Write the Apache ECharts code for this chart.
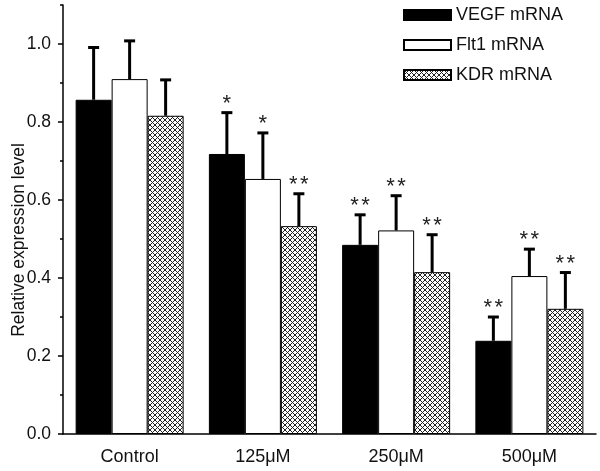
<!DOCTYPE html>
<html><head><meta charset="utf-8">
<script src="https://cdn.jsdelivr.net/npm/echarts@6/dist/echarts.min.js"></script>
<style>html,body{margin:0;padding:0;background:#fff}#c{width:600px;height:471px}</style>
</head><body><div id="c"></div>
<script>
const categories = ['Control', '125\u03bcM', '250\u03bcM', '500\u03bcM'];
const seriesNames = ['VEGF mRNA', 'Flt1 mRNA', 'KDR mRNA'];
const vegf = [0.857, 0.718, 0.485, 0.239];
const vegfSd = [0.134, 0.106, 0.077, 0.061];
const flt1 = [0.910, 0.654, 0.522, 0.405];
const flt1Sd = [0.098, 0.118, 0.089, 0.069];
const kdr = [0.816, 0.533, 0.415, 0.321];
const kdrSd = [0.092, 0.083, 0.096, 0.093];
const vegfStars = ['', '*', '* *', '* *'];
const flt1Stars = ['', '*', '* *', '* *'];
const kdrStars = ['', '* *', '* *', '* *'];
const yMajorTicks = [0, 0.2, 0.4, 0.6, 0.8, 1.0];
const yMinorTicks = [0.1, 0.3, 0.5, 0.7, 0.9, 1.1];

// crosshatch pattern
const P = 5;
const cv = document.createElement('canvas');
cv.width = P; cv.height = P;
const ctx = cv.getContext('2d');
ctx.fillStyle = '#fff'; ctx.fillRect(0, 0, P, P);
ctx.strokeStyle = '#222'; ctx.lineWidth = 1;
ctx.beginPath();
ctx.moveTo(-1, -1); ctx.lineTo(P + 1, P + 1);
ctx.moveTo(P + 1, -1); ctx.lineTo(-1, P + 1);
ctx.stroke();
const hatch = { image: cv, repeat: 'repeat' };

const fills = ['#000', '#fff', hatch];
const means = [vegf, flt1, kdr];
const sds = [vegfSd, flt1Sd, kdrSd];
const stars = [vegfStars, flt1Stars, kdrStars];
const BW = 36;
const FONT = '"Liberation Sans", Arial, sans-serif';

const chart = echarts.init(document.getElementById('c'));
const series = [];
seriesNames.forEach((n, k) => {
  series.push({
    name: n, type: 'bar', data: means[k], barWidth: BW, barGap: '0%',
    itemStyle: { color: fills[k], borderColor: '#000', borderWidth: 1 },
    z: 2
  });
});
seriesNames.forEach((n, k) => {
  series.push({
    type: 'custom', z: 5, silent: true,
    data: means[k].map((v, i) => [i, v, sds[k][i]]),
    renderItem: function (params, api) {
      const i = api.value(0), m = api.value(1), s = api.value(2);
      const star = stars[k][i];
      const b = api.coord([i, m]);
      const t = api.coord([i, m + s]);
      const x = b[0] + (k - 1) * BW;
      const children = [
        { type: 'line', shape: { x1: x, y1: b[1], x2: x, y2: t[1] }, style: { stroke: '#000', lineWidth: 3 } },
        { type: 'line', shape: { x1: x - 5.5, y1: t[1], x2: x + 5.5, y2: t[1] }, style: { stroke: '#000', lineWidth: 3 } }
      ];
      if (star) {
        const parts = star.split(' ');
        const n = parts.length;
        parts.forEach((p, j) => {
          const dx = (j - (n - 1) / 2) * 11;
          children.push({ type: 'text', style: { text: p, x: x + dx, y: t[1] - 9, align: 'center', verticalAlign: 'middle', font: '22px ' + FONT, fill: '#222' } });
        });
      }
      return { type: 'group', children: children };
    }
  });
});

chart.setOption({
  animation: false,
  textStyle: { fontFamily: FONT },
  grid: { left: 63, right: 4, top: 5, bottom: 37, containLabel: false },
  legend: {
    data: seriesNames, orient: 'vertical', left: 403, top: 6, padding: 0,
    itemWidth: 47, itemHeight: 10, itemGap: 12,
    textStyle: { fontSize: 18, color: '#111' },
    icon: 'rect'
  },
  xAxis: [{
    type: 'category', data: categories,
    axisLine: { lineStyle: { color: '#000', width: 1.5 } },
    axisTick: { alignWithLabel: true, length: 5, lineStyle: { color: '#000', width: 1.5 } },
    axisLabel: { fontSize: 18, color: '#111', margin: 14 }
  }, {
    type: 'category', data: categories, position: 'bottom',
    axisLine: { show: false },
    axisTick: { alignWithLabel: false, length: 5, lineStyle: { color: '#000', width: 1.5 } },
    axisLabel: { show: false }
  }],
  yAxis: [{
    type: 'value', min: 0, max: 1.1,
    axisLine: { show: true, lineStyle: { color: '#000', width: 1.5 } },
    axisTick: { show: true, length: 5, customValues: yMajorTicks, lineStyle: { color: '#000', width: 1.5 } },
    axisLabel: { customValues: yMajorTicks, fontSize: 17.5, color: '#111', margin: 12, formatter: v => v.toFixed(1) },
    splitLine: { show: false }
  }, {
    type: 'value', min: 0, max: 1.1, position: 'left',
    axisLine: { show: false },
    axisTick: { show: true, length: 3, customValues: yMinorTicks, lineStyle: { color: '#000', width: 1.5 } },
    axisLabel: { show: false },
    splitLine: { show: false }
  }],
  graphic: [{
    type: 'text', x: 19, y: 240, rotation: Math.PI / 2,
    style: { text: 'Relative expression level', align: 'center', verticalAlign: 'middle', font: '17.5px ' + FONT, fill: '#111' }
  }],
  series: series
});
</script></body></html>
